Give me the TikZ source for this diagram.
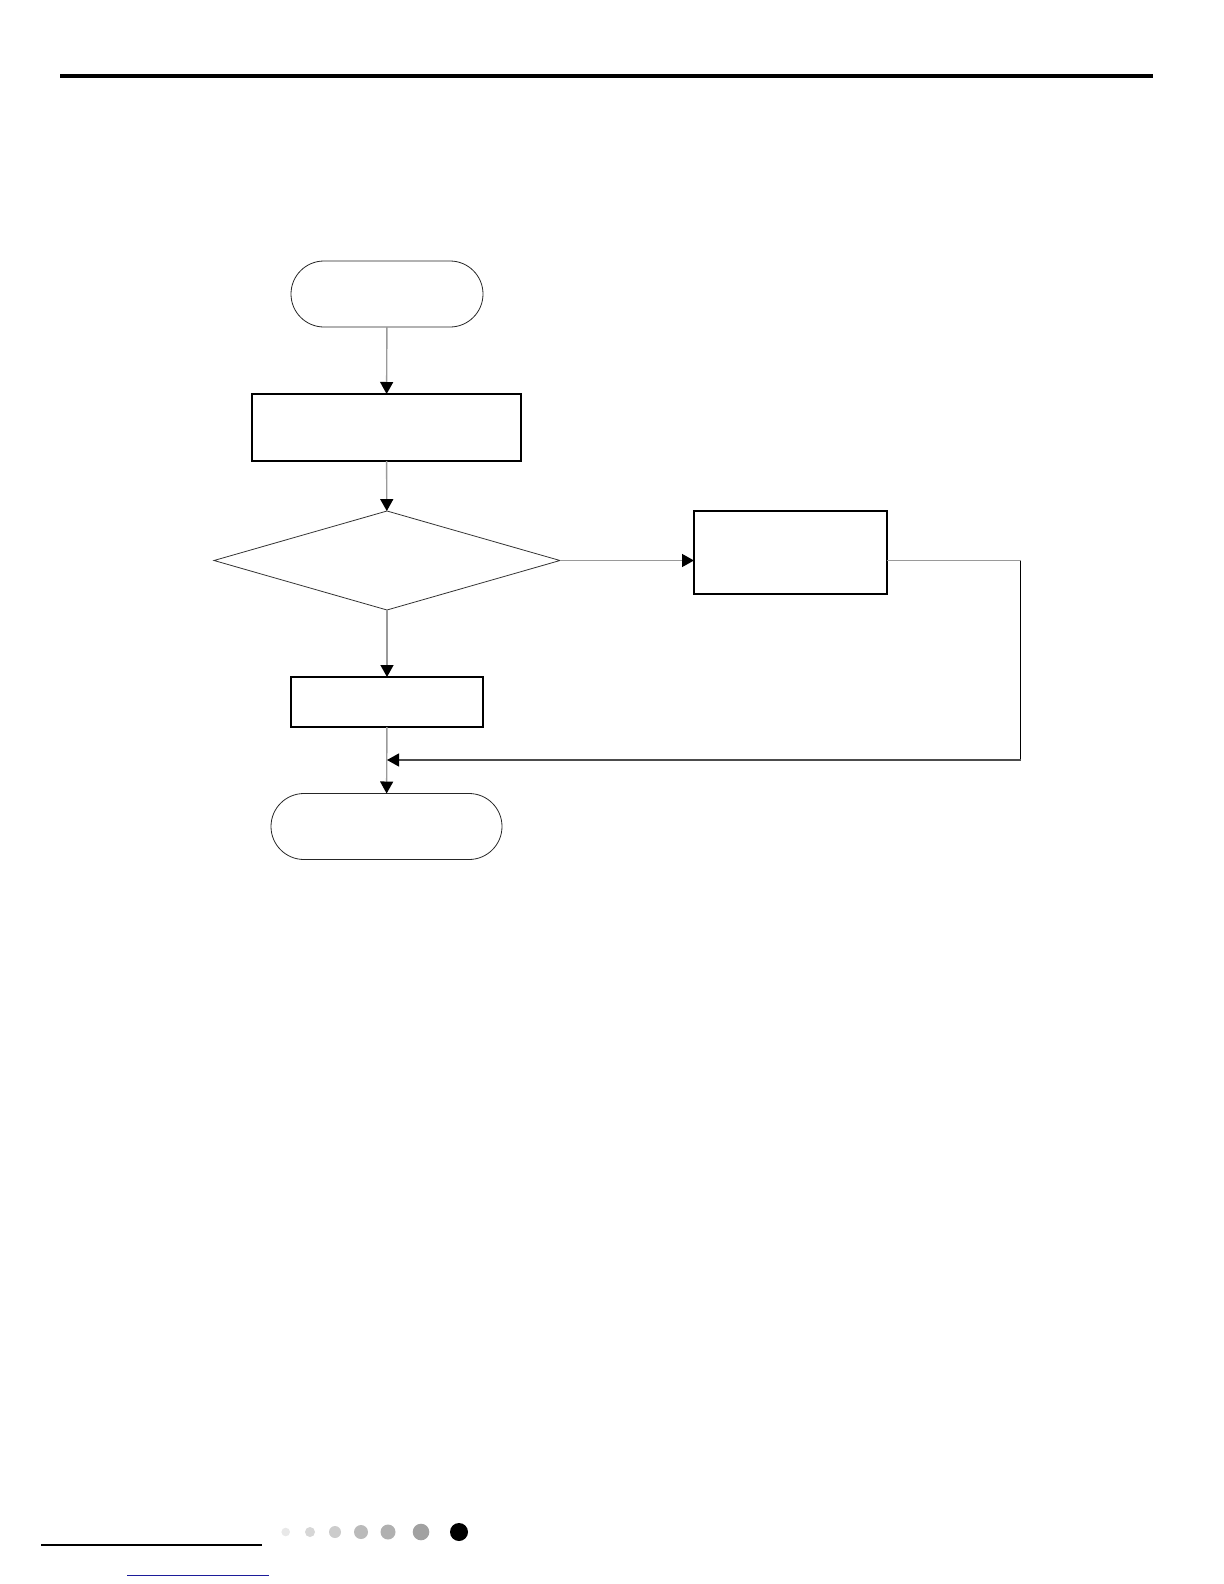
\documentclass[tikz,border=0pt]{standalone}
\usepackage{xcolor}
\usepackage{tikz}
\usetikzlibrary{arrows.meta,positioning,calc,shapes.geometric}

\definecolor{lineGray}{HTML}{9A9A9A}
\definecolor{linkBlue}{HTML}{1C1C9A}

\tikzset{
	terminal/.style={draw=black!85, line width=0.4pt, rectangle, rounded corners=16.5pt,
		inner sep=0pt, outer sep=0pt, minimum height=33pt},
	procbox/.style={draw=black, line width=0.65pt, rectangle, inner sep=0pt, outer sep=0pt},
	decision/.style={draw=black!80, line width=0.4pt, diamond, inner sep=0pt, outer sep=0pt,
		minimum width=173pt, minimum height=49.5pt},
	flow/.style={draw=lineGray, line width=0.7pt, -{Triangle[length=6pt,width=6.5pt,color=black]}},
	flowline/.style={draw=lineGray, line width=0.7pt}
}

\begin{document}
\begin{tikzpicture}[x=0.5pt,y=-0.5pt]
		\useasboundingbox (0,0) rectangle (1224,1584);

		% page rules
		\draw[line width=1.65pt] (60,76) -- (1153,76);
		\draw[line width=1pt] (41,1545) -- (262,1545);
		\draw[linkBlue, line width=0.5pt] (127,1575) -- (269,1575);

		% page dots
		\fill[black!9]  (285.7,1532) circle (4.3);
		\fill[black!16] (310,1532) circle (5);
		\fill[black!20] (335,1532) circle (6);
		\fill[black!27] (361,1532) circle (7);
		\fill[black!31] (388,1532) circle (7.5);
		\fill[black!37] (421,1532) circle (8.3);
		\fill[black]    (459,1532) circle (9);

		% flowchart nodes
		\node[terminal, minimum width=96pt] (start) at (387,294) {};
		\node[procbox, minimum width=134.5pt, minimum height=33.5pt] (init) at (386.5,427.5) {};
		\node[decision] (check) at (387,560.5) {};
		\node[procbox, minimum width=96.5pt, minimum height=41.5pt] (act) at (790.5,552.5) {};
		\node[procbox, minimum width=96pt, minimum height=25pt] (hold) at (387,702) {};
		\node[terminal, minimum width=115.5pt] (stop) at (386.5,826.5) {};

		\coordinate (turn) at (1020.5,760);
		\coordinate (join) at (387,760);

		% connectors
		\draw[flow] (start) -- (init);
		\draw[flow] (init) -- (check);
		\draw[flow] (check.east) -- (check.east -| act.west);
		\draw[flow] (check) -- (hold);
		\draw[flow] (hold) -- (stop);
		\draw[flowline] (act.east |- check.east) -- (turn |- check.east);
		\draw[draw=black, line width=0.65pt] (turn |- check.east) -- (turn);
		\draw[draw=black!70, line width=0.6pt, -{Triangle[length=6pt,width=6.5pt,color=black]}] (turn) -- (join);
	\end{tikzpicture}
\end{document}
